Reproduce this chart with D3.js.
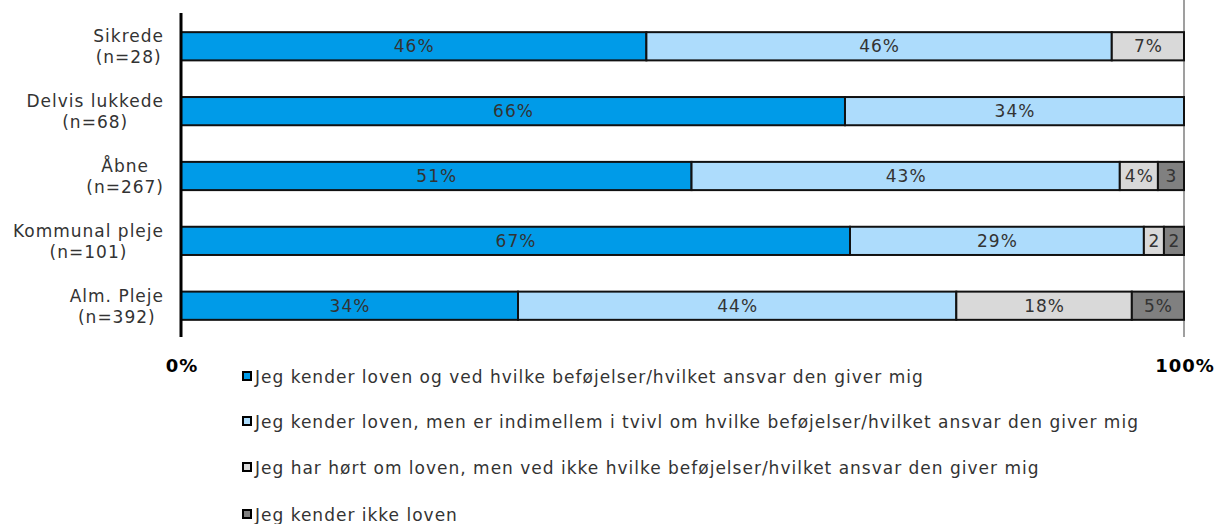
<!DOCTYPE html>
<html>
<head>
<meta charset="utf-8">
<script src="https://cdn.jsdelivr.net/npm/d3@7"></script>
<style>
  body { margin: 0; background: #fff; }
  text { font-family: "DejaVu Sans", Verdana, sans-serif; letter-spacing: 1px; }
</style>
</head>
<body>
<svg id="chart"></svg>
<script>
const categories = ['Sikrede|(n=28)', 'Delvis lukkede|(n=68)', 'Åbne|(n=267)', 'Kommunal pleje|(n=101)', 'Alm. Pleje|(n=392)'];
const seriesNames = [
  'Jeg kender loven og ved hvilke beføjelser/hvilket ansvar den giver mig',
  'Jeg kender loven, men er indimellem i tvivl om hvilke beføjelser/hvilket ansvar den giver mig',
  'Jeg har hørt om loven, men ved ikke hvilke beføjelser/hvilket ansvar den giver mig',
  'Jeg kender ikke loven'
];
const colors = ['#009BE8', '#ADDCFC', '#D9D9D9', '#808080'];
// percent per category, one array per series
const knowsAll = [46.4, 66.2, 50.9, 66.7, 33.6];
const inDoubt = [46.4, 33.8, 42.7, 29.3, 43.7];
const heardOf = [7.2, 0, 3.8, 2.0, 17.5];
const unknown = [0, 0, 2.6, 2.0, 5.2];
const labels = [
  ['46%', '66%', '51%', '67%', '34%'],
  ['46%', '34%', '43%', '29%', '44%'],
  ['7%', '', '4%', '2', '18%'],
  ['', '', '3', '2', '5%']
];
const tickLabels = ['0%', '100%'];

const width = 1217;
const height = 524;
const x0 = 181, x1 = 1184;

const svg = d3.select('#chart')
  .attr('width', width)
  .attr('height', height);

const xScale = d3.scaleLinear().domain([0, 100]).range([x0, x1]);
const yScale = d3.scaleBand()
  .domain(categories)
  .range([14, 338])
  .paddingInner(0.565)
  .paddingOuter(0.28);

const series = [knowsAll, inDoubt, heardOf, unknown];
const rows = categories.map((c, i) => {
  let acc = 0;
  return series.map((s, k) => {
    const seg = { cat: c, k: k, start: acc, end: acc + s[i], label: labels[k][i] };
    acc += s[i];
    return seg;
  });
});

// right gridline at 100%
svg.append('line')
  .attr('x1', xScale(100)).attr('x2', xScale(100))
  .attr('y1', 0).attr('y2', 337)
  .attr('stroke', '#7f7f7f').attr('stroke-width', 1.5);

const group = svg.selectAll('.row')
  .data(rows)
  .enter()
  .append('g')
  .attr('class', 'row');

group.selectAll('rect')
  .data((d) => d.filter((s) => s.end > s.start))
  .enter()
  .append('rect')
  .attr('x', (d) => xScale(d.start))
  .attr('y', (d) => yScale(d.cat))
  .attr('width', (d) => xScale(d.end) - xScale(d.start))
  .attr('height', yScale.bandwidth())
  .attr('fill', (d) => colors[d.k])
  .attr('stroke', '#111')
  .attr('stroke-width', 2);

group.selectAll('text')
  .data((d) => d.filter((s) => s.label))
  .enter()
  .append('text')
  .attr('x', (d) => (xScale(d.start) + xScale(d.end)) / 2 + 0.5)
  .attr('y', (d) => yScale(d.cat) + yScale.bandwidth() / 2 + 6)
  .attr('text-anchor', 'middle')
  .attr('font-size', 17)
  .attr('fill', '#333')
  .text((d) => d.label);

// category labels
const yAxis = svg.append('g');
categories.forEach((c) => {
  const parts = c.split('|');
  const t = yAxis.append('text')
    .attr('text-anchor', 'middle')
    .attr('font-size', 17)
    .attr('fill', '#333');
  parts.forEach((p, i) => {
    t.append('tspan')
      .attr('x', 0)
      .attr('y', yScale(c) + 10 + i * 21)
      .text(p);
  });
  const w = t.node().getBBox().width;
  t.attr('transform', `translate(${164 - w / 2},0)`);
});

// left axis line
svg.append('line')
  .attr('x1', xScale(0)).attr('x2', xScale(0))
  .attr('y1', 13).attr('y2', 337)
  .attr('stroke', '#000').attr('stroke-width', 3);

svg.selectAll('.tick-label')
  .data(tickLabels)
  .enter()
  .append('text')
  .attr('class', 'tick-label')
  .attr('x', (d, i) => xScale(i * 100) + 1)
  .attr('y', 372)
  .attr('text-anchor', 'middle')
  .attr('font-size', 18)
  .attr('font-weight', 'bold')
  .attr('fill', '#000')
  .text((d) => d);

// legend
const legend = svg.append('g').attr('transform', 'translate(242, 371)');
const items = legend.selectAll('g')
  .data(seriesNames)
  .enter()
  .append('g')
  .attr('transform', (d, i) => `translate(0, ${[0, 45, 91, 138][i]})`);

items.append('rect')
  .attr('x', 1).attr('y', 1)
  .attr('width', 8).attr('height', 8)
  .attr('fill', (d, i) => colors[i])
  .attr('stroke', '#000')
  .attr('stroke-width', 2);

items.append('text')
  .attr('x', 13)
  .attr('y', 12)
  .attr('font-size', 17)
  .attr('fill', '#333')
  .text((d) => d);
</script>
</body>
</html>
